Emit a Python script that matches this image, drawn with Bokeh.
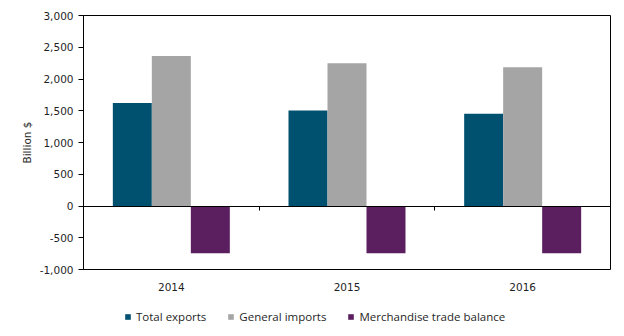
from bokeh.plotting import figure
from bokeh.layouts import column
from bokeh.models import (ColumnDataSource, FixedTicker, LinearAxis, Range1d,
                          Legend, LegendItem, NumeralTickFormatter)
from bokeh.embed import file_html
from bokeh.resources import INLINE

years = ["2014", "2015", "2016"]
total_exports = [1623, 1503, 1451]
general_imports = [2362, 2249, 2187]
trade_balance = [-745, -745, -745]
series_names = ["Total exports", "General imports", "Merchandise trade balance"]
colors = ["#00516F", "#A5A5A5", "#5B1F5F"]
y_ticks = [-1000, -500, 0, 500, 1000, 1500, 2000, 2500, 3000]

p = figure(width=624, height=300, output_backend="svg", toolbar_location=None,
           x_range=Range1d(0, 3), y_range=Range1d(-1000, 3000),
           min_border_left=83, min_border_right=14, min_border_top=15,
           min_border_bottom=31)
p.xaxis.visible = False
p.xgrid.visible = False
p.ygrid.visible = False
p.outline_line_color = "black"
p.outline_line_width = 1
p.background_fill_color = "white"
p.border_fill_color = "white"

centers = [i + 0.5 for i in range(len(years))]
bw = 0.222
offsets = [-bw, 0, bw]
renderers = []
for vals, off, col in zip([total_exports, general_imports, trade_balance], offsets, colors):
    src = ColumnDataSource(dict(x=[c + off for c in centers], top=vals))
    r = p.vbar(x="x", top="top", bottom=0, width=bw, source=src,
               fill_color=col, line_color=None)
    renderers.append(r)

txt = "#1f1f1f"
# y axis
ya = p.yaxis[0]
ya.ticker = FixedTicker(ticks=y_ticks)
ya.formatter = NumeralTickFormatter(format="0,0")
ya.axis_label = "Billion $"
ya.axis_label_text_font = "DejaVu Sans"
ya.axis_label_text_font_size = "10.5px"
ya.axis_label_text_font_style = "normal"
ya.axis_label_text_color = txt
ya.axis_label_standoff = 4
ya.major_label_text_font = "DejaVu Sans"
ya.major_label_text_font_size = "10.5px"
ya.major_label_text_color = txt
ya.major_tick_in = 0
ya.major_tick_out = 5
ya.minor_tick_line_color = None
ya.axis_line_color = "black"
ya.major_label_standoff = 5

# zero line with group separators
zero_axis = LinearAxis(fixed_location=0, ticker=FixedTicker(ticks=[1, 2]),
                       major_label_text_alpha=0, major_tick_in=0, major_tick_out=4,
                       minor_tick_line_color=None, axis_line_color="black",
                       major_tick_line_color="black")
p.add_layout(zero_axis, "below")

# category labels
cat_axis = LinearAxis(ticker=FixedTicker(ticks=centers),
                      major_label_overrides={c: y for c, y in zip(centers, years)},
                      major_tick_line_color=None, minor_tick_line_color=None,
                      axis_line_color=None, major_label_standoff=7,
                      major_label_text_font="DejaVu Sans",
                      major_label_text_font_size="10.5px",
                      major_label_text_color=txt)
p.add_layout(cat_axis, "below")

# legend strip
lf = figure(width=624, height=36, output_backend="svg", toolbar_location=None,
            x_range=Range1d(0, 1), y_range=Range1d(0, 1),
            x_axis_location=None, y_axis_location=None,
            min_border_left=83, min_border_right=14, min_border_top=0,
            min_border_bottom=0)
lf.outline_line_color = None
lf.background_fill_color = None
lf.border_fill_color = None
lf.grid.visible = False
items = []
for n, col in zip(series_names, colors):
    lr = lf.vbar(x=[0.5], top=[0], bottom=0, width=0.1, fill_color=col, line_color=None)
    items.append(LegendItem(label=n, renderers=[lr]))
legend = Legend(items=items, orientation="horizontal", location=(41, 12),
                label_text_font="Open Sans", label_text_font_size="11.5px",
                label_text_color=txt, glyph_width=7, glyph_height=7,
                label_standoff=5, spacing=21, padding=0, margin=0,
                border_line_color=None, background_fill_alpha=0)
lf.add_layout(legend, "center")

layout = column(p, lf, spacing=0)
open("out.html", "w").write(file_html(layout, INLINE))
